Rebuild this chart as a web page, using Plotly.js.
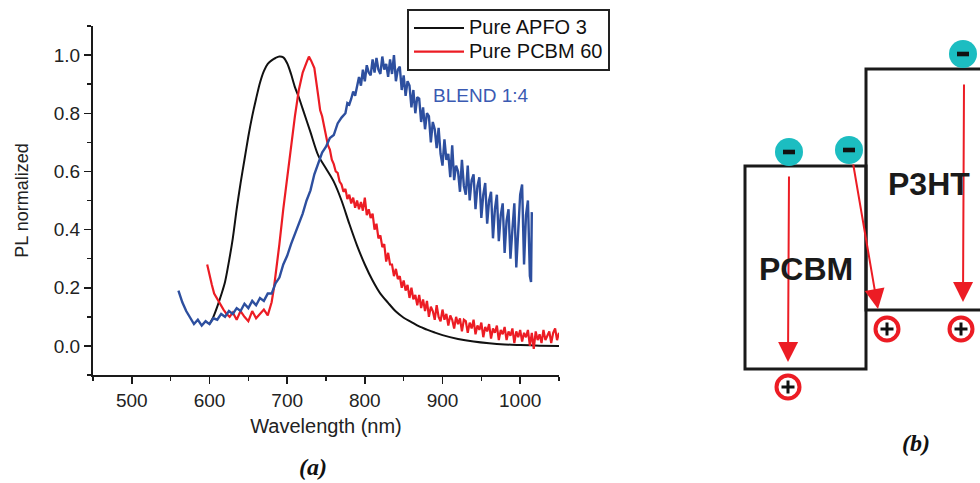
<!DOCTYPE html>
<html>
<head>
<meta charset="utf-8">
<script src="https://cdn.plot.ly/plotly-3.0.1.min.js"></script>
<style>
  html, body { margin: 0; padding: 0; background: #ffffff; overflow: hidden; }
  #chart { width: 980px; height: 483px; }
</style>
</head>
<body>
<div id="chart"></div>
<script>
// ---------- Panel (a) data: PL spectra ----------
const apfoName = "Pure APFO 3";
const apfoWavelength = [600, 605, 610, 615, 620, 625, 630, 635, 640, 645, 650, 655, 660, 665, 670, 675, 680, 685, 690, 695, 700, 705, 710, 715, 720, 730, 740, 750, 760, 770, 780, 790, 800, 810, 820, 830, 840, 850, 860, 870, 880, 890, 900, 920, 940, 960, 980, 1000, 1025, 1050];
const apfoPL = [0.075, 0.10, 0.135, 0.175, 0.22, 0.29, 0.37, 0.47, 0.56, 0.64, 0.72, 0.79, 0.85, 0.905, 0.945, 0.97, 0.982, 0.99, 0.995, 0.992, 0.972, 0.935, 0.89, 0.855, 0.815, 0.735, 0.655, 0.61, 0.565, 0.50, 0.42, 0.345, 0.28, 0.225, 0.18, 0.148, 0.118, 0.097, 0.082, 0.067, 0.056, 0.046, 0.037, 0.024, 0.015, 0.009, 0.005, 0.003, 0.001, 0.0];

const pcbmName = "Pure PCBM 60";
const pcbmWavelength = [597, 600, 603, 606, 610, 614, 618, 622, 626, 630, 635, 640, 645, 650, 655, 660, 665, 670, 675, 680, 683, 686, 690, 695, 700, 705, 710, 715, 720, 725, 728, 731, 735,
  740, 742.5, 745, 747.5, 750, 752.5, 755, 757.5, 760, 762.5, 765, 767.5, 770, 772.5, 775, 777.5, 780, 782.5, 785, 787.5, 790, 792.5, 795, 797.5,
  800, 802.5, 805, 807.5, 810, 812.5, 815, 817.5, 820, 822.5, 825, 827.5, 830, 832.5, 835, 837.5, 840, 842.5, 845, 847.5, 850, 852.5, 855, 857.5,
  860, 862.5, 865, 867.5, 870, 872.5, 875, 877.5, 880, 882.5, 885, 887.5, 890, 892.5, 895, 897.5, 900, 902.5, 905, 907.5, 910, 912.5, 915, 917.5,
  920, 922.5, 925, 927.5, 930, 932.5, 935, 937.5, 940, 942.5, 945, 947.5, 950, 952.5, 955, 957.5, 960, 962.5, 965, 967.5, 970, 972.5, 975, 977.5,
  980, 982.5, 985, 987.5, 990, 992.5, 995, 997.5, 1000, 1002.5, 1005, 1007.5, 1010, 1012.5, 1015, 1017.5, 1020, 1022.5, 1025, 1027.5, 1030, 1032.5,
  1035, 1037.5, 1040, 1042.5, 1045, 1047.5, 1050];
const pcbmPL = [0.28, 0.24, 0.21, 0.18, 0.16, 0.14, 0.125, 0.11, 0.10, 0.115, 0.09, 0.12, 0.10, 0.085, 0.12, 0.095, 0.11, 0.125, 0.105, 0.15, 0.20, 0.26, 0.35, 0.47, 0.58, 0.69, 0.79, 0.88, 0.94, 0.975, 0.995, 0.98, 0.955,
  0.86, 0.81, 0.79, 0.755, 0.72, 0.69, 0.675, 0.64, 0.625, 0.60, 0.595, 0.565, 0.555, 0.53, 0.54, 0.505, 0.52, 0.49, 0.51, 0.475, 0.50, 0.47, 0.495, 0.465,
  0.51, 0.45, 0.47, 0.44, 0.455, 0.40, 0.42, 0.37, 0.38, 0.34, 0.35, 0.29, 0.32, 0.28, 0.28, 0.24, 0.265, 0.23, 0.24, 0.20, 0.225, 0.19, 0.21, 0.165,
  0.20, 0.16, 0.175, 0.14, 0.175, 0.13, 0.16, 0.12,
  0.155, 0.10, 0.135, 0.12, 0.09, 0.14, 0.10, 0.085, 0.125, 0.09, 0.11, 0.07, 0.105, 0.09, 0.06, 0.10, 0.075, 0.095, 0.05, 0.09,
  0.085, 0.045, 0.08, 0.06, 0.09, 0.04, 0.07, 0.055, 0.08, 0.03, 0.065, 0.05, 0.075, 0.025, 0.06, 0.045, 0.07, 0.02, 0.055, 0.04,
  0.065, 0.02, 0.05, 0.035, 0.06, 0.01, 0.05, 0.03, 0.055, 0.015, 0.045, 0.03, 0.055, 0.0, 0.045, -0.01, 0.05, 0.02, 0.04, 0.01,
  0.055, 0.02, 0.035, 0.05, 0.01, 0.045, 0.06, 0.02, 0.045];

const blendLabel = "BLEND 1:4";
const blendWavelength = [560, 565, 570, 575, 580, 585, 590, 595, 600, 605, 610, 615, 620, 625, 630, 635, 640, 645, 650, 655, 660, 665, 670, 675, 680, 685, 690, 695, 700, 705, 710, 715, 720, 725, 730, 735, 740, 745, 750, 755, 760, 765, 770,
  775, 777.5, 780, 782.5, 785, 787.5, 790, 792.5, 795, 797.5, 800, 802.5, 805, 807.5, 810, 812.5, 815, 817.5, 820, 822.5, 825, 827.5, 830, 832.5, 835, 837.5,
  840, 842.5, 845, 847.5, 850, 852.5, 855, 857.5, 860, 862.5, 865, 867.5, 870, 872.5, 875, 877.5, 880, 882.5, 885, 887.5, 890, 892.5, 895, 897.5,
  900, 902.5, 905, 907.5, 910, 912.5, 915, 917.5, 920, 922.5, 925, 927.5, 930, 932.5, 935, 937.5, 940, 942.5, 945, 947.5, 950, 952.5, 955, 957.5,
  960, 962.5, 965, 967.5, 970, 972.5, 975, 977.5, 980, 982.5, 985, 987.5, 990, 992.5, 995, 997.5, 1000, 1002.5, 1005, 1007.5, 1010, 1012.5, 1014, 1015];
const blendPL = [0.19, 0.15, 0.12, 0.095, 0.075, 0.09, 0.07, 0.085, 0.075, 0.095, 0.09, 0.11, 0.10, 0.12, 0.11, 0.13, 0.12, 0.145, 0.13, 0.155, 0.14, 0.165, 0.155, 0.18, 0.18, 0.215, 0.235, 0.28, 0.31, 0.35, 0.385, 0.42, 0.455, 0.50, 0.535, 0.59, 0.625, 0.665, 0.685, 0.715, 0.725, 0.765, 0.785,
  0.80, 0.835, 0.83, 0.85, 0.875, 0.86, 0.90, 0.925, 0.895, 0.95,
  0.91, 0.965, 0.94, 0.93, 0.985, 0.94, 0.99, 0.95, 0.935, 0.995, 0.95, 0.97, 0.925, 0.985, 0.935, 1.0, 0.91, 0.95, 0.96, 0.88,
  0.93, 0.86, 0.91, 0.895, 0.82, 0.88, 0.80, 0.855, 0.85, 0.77, 0.82, 0.745, 0.80, 0.79, 0.70, 0.77, 0.745, 0.68, 0.75, 0.66,
  0.62, 0.71, 0.64, 0.66, 0.58, 0.69, 0.57, 0.62, 0.60, 0.53, 0.64, 0.55, 0.52, 0.62, 0.50, 0.57, 0.59, 0.47, 0.55, 0.58,
  0.44, 0.52, 0.56, 0.42, 0.50, 0.53, 0.37, 0.47, 0.52, 0.36, 0.45, 0.49, 0.32, 0.43, 0.47, 0.30, 0.40, 0.49, 0.27, 0.42,
  0.52, 0.555, 0.28, 0.45, 0.50, 0.24, 0.22, 0.46];

const xTickStep = 100, xMinorStep = 50, xRange = [450, 1050];
const yTickStep = 0.2, yMinorStep = 0.1, yRange = [-0.1, 1.1];
const xTitle = "Wavelength (nm)";
const yTitle = "PL normalized";
const panelLabels = ["(a)", "(b)"];

// ---------- Panel (b) schematic (energy diagram, pixel space) ----------
const bandNames = ["PCBM", "P3HT"];
const bandBoxes = [ // [x0, x1, yTop, yBottom]
  [745, 866, 166, 369],
  [866, 1000, 69, 310]
];
const bandLabelPos = [[806, 269], [929, 184]];
const electrons = [[789, 152], [849, 150], [963, 54]];
const holes = [[788, 387], [887, 329], [961, 329]];
const transitions = [ // [tailX, tailY, headX, headY]
  [789, 175, 788, 362],
  [853, 163, 878, 309],
  [964, 83, 963, 302]
];

// ---------- colours ----------
const black = "#111111", red = "#ec1c24", blue = "#2d4f9f", teal = "#1cbdc1";
const sans = "Liberation Sans, Arial, sans-serif";
const serif = "Liberation Serif, Times New Roman, serif";

const W = 980, H = 483;
const plotL = 93, plotR = 559, plotT = 26, plotB = 375;
const legendLabel = s => '<span style="font-size:20px">' + s + '</span>';

const traces = [
  { x: apfoWavelength, y: apfoPL, name: legendLabel(apfoName), type: "scatter", mode: "lines",
    line: { color: black, width: 2, shape: "spline", smoothing: 0.8 } },
  { x: pcbmWavelength, y: pcbmPL, name: legendLabel(pcbmName), type: "scatter", mode: "lines",
    line: { color: red, width: 2.2 } },
  { x: blendWavelength, y: blendPL, name: blendLabel, type: "scatter", mode: "lines",
    showlegend: false, line: { color: blue, width: 2.4 } }
];

const shapes = [];
const annotations = [];

bandBoxes.forEach(b => {
  shapes.push({ type: "rect", xref: "x2", yref: "y2", x0: b[0], x1: b[1], y0: b[2], y1: b[3],
    line: { color: "#1a1a1a", width: 3 }, fillcolor: "rgba(0,0,0,0)" });
});
electrons.forEach(e => {
  shapes.push({ type: "circle", xref: "x2", yref: "y2", x0: e[0] - 14, x1: e[0] + 14, y0: e[1] - 14, y1: e[1] + 14,
    line: { width: 0 }, fillcolor: teal });
  shapes.push({ type: "rect", xref: "x2", yref: "y2", x0: e[0] - 6, x1: e[0] + 6, y0: e[1] - 2.3, y1: e[1] + 2.3,
    line: { width: 0 }, fillcolor: "#111111" });
});
holes.forEach(h => {
  shapes.push({ type: "circle", xref: "x2", yref: "y2", x0: h[0] - 11.5, x1: h[0] + 11.5, y0: h[1] - 11.5, y1: h[1] + 11.5,
    line: { color: red, width: 4 }, fillcolor: "#ffffff" });
  shapes.push({ type: "line", xref: "x2", yref: "y2", x0: h[0] - 6.5, x1: h[0] + 6.5, y0: h[1], y1: h[1],
    line: { color: "#111111", width: 3 } });
  shapes.push({ type: "line", xref: "x2", yref: "y2", x0: h[0], x1: h[0], y0: h[1] - 6.5, y1: h[1] + 6.5,
    line: { color: "#111111", width: 3 } });
});
transitions.forEach(t => {
  annotations.push({ xref: "x2", yref: "y2", axref: "x2", ayref: "y2",
    x: t[2], y: t[3], ax: t[0], ay: t[1], text: "", showarrow: true,
    arrowhead: 2, arrowsize: 2, arrowwidth: 2, arrowcolor: red, standoff: 0 });
});
bandNames.forEach((n, i) => {
  annotations.push({ xref: "x2", yref: "y2", x: bandLabelPos[i][0], y: bandLabelPos[i][1],
    text: "<b>" + n + "</b>", showarrow: false, font: { family: sans, size: 32, color: "#1a1a1a" } });
});

annotations.push({ xref: "x", yref: "y", x: 949, y: 0.862, text: blendLabel, showarrow: false,
  xanchor: "center", yanchor: "middle", font: { family: sans, size: 19, color: "#3a5ab2" } });
annotations.push({ xref: "paper", yref: "paper", x: 313 / W, y: (H - 467) / H, xanchor: "center", yanchor: "middle",
  text: "<b><i>" + panelLabels[0] + "</i></b>", showarrow: false, font: { family: serif, size: 24, color: "#111111" } });
annotations.push({ xref: "paper", yref: "paper", x: 916 / W, y: (H - 443) / H, xanchor: "center", yanchor: "middle",
  text: "<b><i>" + panelLabels[1] + "</i></b>", showarrow: false, font: { family: serif, size: 24, color: "#111111" } });

const axisCommon = {
  showline: true, linecolor: "#1a1a1a", linewidth: 2, mirror: false,
  ticks: "outside", ticklen: 7, tickwidth: 1.5, tickcolor: "#1a1a1a",
  showgrid: false, zeroline: false,
  tickfont: { family: sans, size: 19, color: "#222222" }
};

const layout = {
  width: W, height: H,
  margin: { l: 0, r: 0, t: 0, b: 0 },
  paper_bgcolor: "#ffffff", plot_bgcolor: "#ffffff",
  showlegend: true,
  legend: {
    x: 407 / W, y: (H - 9) / H, xanchor: "left", yanchor: "top",
    bgcolor: "#ffffff", bordercolor: "#222222", borderwidth: 2,
    font: { family: sans, size: 16, color: "#111111" },
    itemwidth: 50, tracegroupgap: 0
  },
  xaxis: Object.assign({}, axisCommon, {
    domain: [plotL / W, plotR / W], range: xRange, anchor: "y",
    tick0: 0, dtick: xTickStep,
    minor: { ticks: "outside", ticklen: 4, tickwidth: 1.5, tickcolor: "#1a1a1a", dtick: xMinorStep, tick0: 0, showgrid: false },
    title: { text: xTitle, font: { family: sans, size: 20, color: "#222222" }, standoff: 9 }
  }),
  yaxis: Object.assign({}, axisCommon, {
    domain: [(H - plotB) / H, (H - plotT) / H], range: yRange, anchor: "x",
    tick0: 0, dtick: yTickStep, tickformat: ".1f",
    minor: { ticks: "outside", ticklen: 4, tickwidth: 1.5, tickcolor: "#1a1a1a", dtick: yMinorStep, tick0: 0, showgrid: false },
    title: { text: yTitle, font: { family: sans, size: 18, color: "#222222" }, standoff: 20 }
  }),
  xaxis2: { domain: [740 / W, 1], range: [740, 980], anchor: "y2", visible: false, fixedrange: true },
  yaxis2: { domain: [0, 1], range: [H, 0], anchor: "x2", visible: false, fixedrange: true },
  shapes: shapes,
  annotations: annotations
};

Plotly.newPlot("chart", traces, layout, { displayModeBar: false, staticPlot: true });
</script>
</body>
</html>
